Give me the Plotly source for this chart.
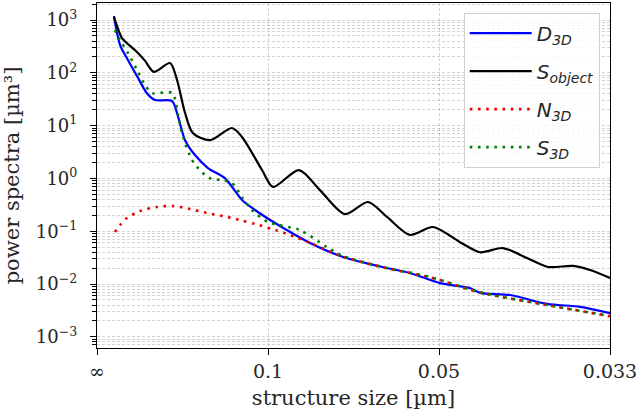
import plotly.graph_objects as go

# spatial frequency [1/µm] and power spectra [µm³]
f_obj = [0.99, 1.23, 1.46, 2.34, 2.80, 3.33, 4.27, 4.68, 5.15, 5.61, 6.61, 7.89, 8.48, 9.65, 10.29, 11.81,
         13.04, 14.50, 15.85, 16.96, 18.30, 19.65, 21.23, 22.40, 23.74, 25.15, 26.37, 27.84, 28.83, 30.0]
s_obj = [1140, 680, 456, 248, 170, 104, 153, 73, 17.3, 7.2, 5.3, 9.0, 6.1, 1.44, 0.69, 1.44,
         0.60, 0.21, 0.357, 0.186, 0.085, 0.120, 0.062, 0.040, 0.048, 0.031, 0.021, 0.022, 0.0184, 0.0130]

f_d = [0.99, 1.35, 1.81, 2.40, 2.92, 3.39, 4.39, 4.68, 5.15, 5.73, 6.49, 7.49, 8.48, 9.24,
       10.41, 12.46, 14.39, 16.96, 18.30, 20.06, 21.81, 22.40, 24.15, 26.32, 28.25, 30.0]
d_3d = [1190, 336, 175, 80, 41, 30.5, 29.2, 17.3, 5.3, 2.77, 1.57, 1.0, 0.39, 0.252,
        0.143, 0.060, 0.0325, 0.0201, 0.0162, 0.0104, 0.0084, 0.0068, 0.0062, 0.0042, 0.0037, 0.0028]

f_s = [1.05, 1.35, 1.81, 2.40, 2.81, 3.22, 4.39, 4.74, 5.03, 5.56, 5.91, 6.32, 6.73, 7.31, 7.89,
       8.48, 9.06, 10.0, 11.87, 13.45, 14.39, 16.96, 19.47, 22.40, 26.32, 30.0]
s_3d = [647, 418, 237, 104, 58.7, 41.4, 41.4, 15.9, 6.1, 2.23, 1.57, 1.16, 0.97, 0.93, 0.82,
        0.44, 0.252, 0.149, 0.105, 0.050, 0.0339, 0.0201, 0.0136, 0.0070, 0.0040, 0.00248]

f_n = [1.05, 1.35, 1.75, 2.51, 3.51, 4.44, 5.44, 6.43, 7.37, 8.36, 9.24, 10.23, 11.29, 12.46,
       14.39, 16.96, 19.47, 22.40, 26.32, 30.0]
n_3d = [0.0966, 0.131, 0.178, 0.241, 0.287, 0.300, 0.263, 0.221, 0.194, 0.163, 0.137, 0.110, 0.085, 0.060,
        0.033, 0.0198, 0.0134, 0.0069, 0.0040, 0.00245]

x_tickvals = [0, 10, 20, 30]
x_ticktext = ["∞", "0.1", "0.05", "0.033"]
y_exps = [-3, -2, -1, 0, 1, 2, 3]

dotdash = "2.6px,5.6px"
fig = go.Figure()
fig.add_trace(go.Scatter(x=f_d, y=d_3d, mode="lines", line=dict(color="#0000ff", width=2.2, shape="spline", smoothing=0.8),
                         name="<i>D<sub>3D</sub></i>", legendgroup="a"))
fig.add_trace(go.Scatter(x=f_obj, y=s_obj, mode="lines", line=dict(color="#000000", width=2.2, shape="spline", smoothing=0.8),
                         name="<i>S<sub>object</sub></i>", legendgroup="b"))
fig.add_trace(go.Scatter(x=f_n, y=n_3d, mode="lines", line=dict(color="#ee0000", width=2.6, dash=dotdash, shape="spline", smoothing=0.8),
                         name="<i>N<sub>3D</sub></i>", legendgroup="c"))
fig.add_trace(go.Scatter(x=f_s, y=s_3d, mode="lines", line=dict(color="#008000", width=2.6, dash=dotdash, shape="spline", smoothing=0.8),
                         name="<i>S<sub>3D</sub></i>", legendgroup="d"))

minor_vals = [k * 10 ** e for e in range(-4, 4) for k in range(2, 10)]
gridc = "rgba(0,0,0,0.17)"
gdash = "3px,2px"
fig.update_layout(
    width=640, height=412,
    margin=dict(l=97, r=30, t=3, b=64),
    paper_bgcolor="white", plot_bgcolor="white",
    font=dict(family="DejaVu Serif", size=17, color="#262626"),
    legend=dict(x=0.98, y=0.972, xanchor="right", yanchor="top",
                bgcolor="rgba(255,255,255,0.8)", bordercolor="#d0d0d0", borderwidth=1,
                font=dict(family="DejaVu Sans", size=20, color="#262626"),
                tracegroupgap=9, itemwidth=62),
    xaxis=dict(range=[0, 30], tickvals=x_tickvals, ticktext=x_ticktext,
               tickfont=dict(size=19),
               showline=True, linecolor="black", linewidth=1.2, mirror=True,
               ticks="outside", ticklen=6, tickcolor="black",
               showgrid=True, gridcolor=gridc, griddash=gdash, gridwidth=1, zeroline=False,
               title=dict(text="structure size [µm]", font=dict(size=21), standoff=9)),
    yaxis=dict(type="log", range=[-3.212, 3.322],
               tickvals=[10 ** e for e in y_exps],
               ticktext=["10<sup>%s</sup>" % (str(e).replace("-", "−")) for e in y_exps],
               tickfont=dict(size=18), ticklabelstandoff=9,
               showline=True, linecolor="black", linewidth=1.2, mirror=True,
               ticks="outside", ticklen=6, tickcolor="black",
               showgrid=True, gridcolor=gridc, griddash=gdash, gridwidth=1, zeroline=False,
               minor=dict(tickvals=minor_vals, ticks="outside", ticklen=3.5, tickcolor="black",
                          showgrid=True, gridcolor=gridc, griddash=gdash, gridwidth=1),
               title=dict(text="power spectra [µm³]", font=dict(size=21), standoff=11)),
)
fig.write_html("out.html")
